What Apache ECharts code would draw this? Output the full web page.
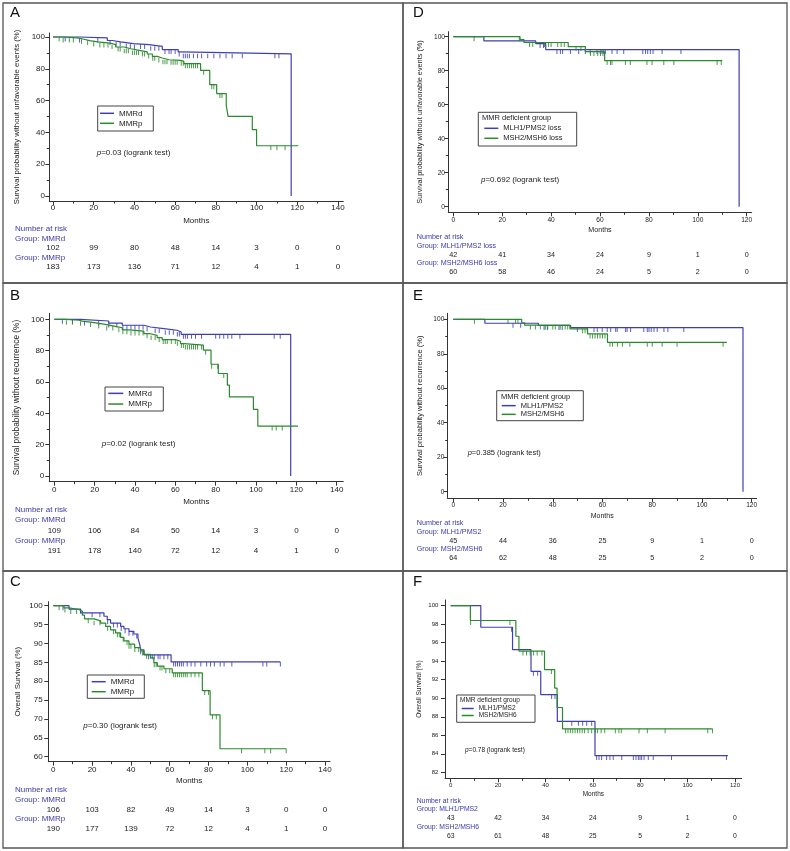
<!DOCTYPE html>
<html><head><meta charset="utf-8">
<script src="https://cdn.jsdelivr.net/npm/echarts@6/dist/echarts.min.js"></script>
<style>html,body{margin:0;padding:0;background:#fff}#c{width:790px;height:851px}</style>
</head><body><div id="c"></div>
<script>
// ---------- tick labels ----------
const ticksX140 = [0,20,40,60,80,100,120,140];
const minorX140 = [10,30,50,70,90,110,130];
const ticksX120 = [0,20,40,60,80,100,120];
const minorX120 = [10,30,50,70,90,110];
const ticksY100 = [0,20,40,60,80,100];
const minorY100 = [10,30,50,70,90];
const ticksY60 = [60,65,70,75,80,85,90,95,100];
const ticksY82 = [82,84,86,88,90,92,94,96,98,100];

// ---------- Panel A : survival without unfavorable events ----------
const A_MMRd_steps = [[0,100],[12.8,99.4],[26.7,97.8],[29.1,96.9],[33.2,95.8],[39.5,95.2],[47.2,94.1],[53.7,92.1],[61.5,90.6],[62.8,89.4],[117,0]];
const A_MMRd_cens = [6,13,22,28,31,33,36,38,40,43,45,48,50,52,55,57,58,60,62,64,65,66,67,69,71,73,76,79,82,85,88,93,109,111];
const A_MMRp_steps = [[0,100],[4.6,99.4],[12,98.6],[15.2,97.7],[18,96.9],[22,96.2],[28,95.2],[30.8,93.7],[34.9,92.6],[38.2,91.4],[43.1,90.6],[46.3,89.3],[48.8,87.8],[51.2,86.8],[53.7,85.7],[57,85.3],[62.7,84.7],[64.3,83.2],[72.5,79],[77,70],[80.4,64.4],[85.1,57],[86,50.1],[97.9,41.7],[100,31.6],[120.5,31.6]];
const A_MMRp_cens = [3,5,8,10,14,17,20,23,25,27,29,32,33,35,36,37,39,40,41,42,44,45,47,49,50,52,54,55,56,58,59,60,61,63,64,65,66,67,68,69,70,71,74,78,79,82,83,107,110,114];
const A_MMRd_risk = [102,99,80,48,14,3,0,0];
const A_MMRp_risk = [183,173,136,71,12,4,1,0];

// ---------- Panel B : survival without recurrence ----------
const B_MMRd_steps = [[0,100],[13,98.9],[27,97.6],[33.7,96.2],[44.4,95.1],[47.7,94.1],[54.3,93],[60.9,91.9],[62.9,90.4],[117.2,0]];
const B_MMRd_cens = [4,9,15,22,27,31,34,36,38,40,42,44,46,50,52,55,57,59,61,62,64,65,66,68,70,73,80,82,84,86,88,92,109,112];
const B_MMRp_steps = [[0,100],[5.6,99.4],[12.2,98.8],[13.9,97.9],[19.7,96.9],[24.6,95.7],[29.6,94.6],[33.7,93.3],[37,92.5],[44.4,90.8],[47.7,89.7],[51,88.3],[53.5,87],[60.1,86],[62.6,84.5],[64.2,83.5],[73.9,80.3],[77.7,71.3],[81.3,65.4],[85.8,58],[86.8,50.5],[98.7,42.5],[100.9,31.8],[120.8,31.8]];
const B_MMRp_cens = [6,9,13,18,22,26,29,32,34,36,38,40,42,44,46,48,50,52,54,55,56,58,60,61,63,64,65,66,67,68,69,70,71,73,75,78,81,84,108,110,113];
const B_MMRd_risk = [109,106,84,50,14,3,0,0];
const B_MMRp_risk = [191,178,140,72,12,4,1,0];

// ---------- Panel C : overall survival ----------
const C_MMRd_steps = [[0,100],[8.1,99.1],[14.1,98.1],[26.1,97.2],[27.8,96.3],[29.5,95.4],[34.7,94.5],[36.4,93.9],[39,93.2],[41.5,92.5],[43.6,91.4],[44.5,89.8],[45,88.3],[46.7,87],[60.7,85.1],[117,85.1]];
const C_MMRd_cens = [5,14,20,24,28,31,33,35,37,39,41,43,45,49,51,52,54,55,57,59,62,63,64,65,66,67,69,71,73,76,79,81,83,86,88,92,108,110,117];
const C_MMRp_steps = [[0,100],[5.5,99.4],[8.1,99],[13.2,98.5],[15,97.5],[16.1,96.5],[21,96],[24.4,95.4],[27,94.5],[29.5,93.6],[32.1,92.8],[34.7,91.6],[36.4,90.7],[39,89.8],[41.9,88.9],[45,88],[46.7,87.1],[50.1,86.2],[51.8,84.9],[53.6,84],[57,83.3],[61.3,82.2],[76.8,77.5],[80.8,71.1],[85.9,62.1],[120,62.1]];
const C_MMRp_cens = [3,6,9,12,18,21,24,28,31,33,34,36,38,39,40,42,44,46,48,50,52,53,55,56,58,60,62,63,64,65,66,67,68,69,71,73,75,78,80,82,84,97,109,112,120];
const C_MMRd_risk = [106,103,82,49,14,3,0,0];
const C_MMRp_risk = [190,177,139,72,12,4,1,0];

// ---------- Panel D ----------
const D_MLH1_steps = [[0,100],[12.5,97.5],[33.7,95.9],[37.8,92.4],[116.9,0]];
const D_MLH1_cens = [35.5,36.9,42.4,43.8,44.7,47.9,51.3,54,56,58.8,60.1,60.8,61.5,62.2,64.9,67,69.7,77.5,78.6,79.5,80.6,81.7,85.4,93.1];
const D_MSH2_steps = [[0,100],[27.3,98.3],[28.9,96.6],[47,94.2],[54,91.2],[61.9,85.9],[110,85.9]];
const D_MSH2_cens = [8.5,27,31.2,32.5,37.3,38.9,40,42.7,44.1,45.4,50.2,52.2,56.1,57.5,59.1,60.2,61.2,62.9,64.3,64.9,70.4,72.4,79.2,81.3,86.1,90.2,107.9,109.6];
const D_MLH1_risk = [42,41,34,24,9,1,0];
const D_MSH2_risk = [60,58,46,24,5,2,0];

// ---------- Panel E ----------
const E_MLH1_steps = [[0,100],[12.7,97.7],[34.2,96.4],[47.2,95.2],[116.5,0]];
const E_MLH1_cens = [24,27.1,36.5,37.8,42.5,43.8,49.9,53.9,56.6,57.9,59.9,61.9,63.3,65.3,65.9,69.3,69.9,71.3,76.6,78,78.7,79.6,80.7,82,84.7,86.3,92.7];
const E_MSH2_steps = [[0,100],[27.5,98],[28.7,96.6],[46.9,94.5],[54,91.5],[62,86.6],[110,86.6]];
const E_MSH2_cens = [8.5,22,25,26,31,33,35,37,38,40,41,43,45,46,52,53,55,56,57,58,59,60,61,63,64,66,68,71,78,80,84,90,108.5];
const E_MLH1_risk = [45,44,36,25,9,1,0];
const E_MSH2_risk = [64,62,48,25,5,2,0];

// ---------- Panel F ----------
const F_MLH1_steps = [[0,100],[12.7,97.67],[26.1,95.25],[33.9,92.9],[38,90.4],[45,87.5],[60.9,83.8],[117,83.8]];
const F_MLH1_cens = [25.7,34.9,36.7,42.6,44,51.1,53.9,55.7,57.4,59.5,61.6,62.6,63.7,65.8,67.2,68.6,72.2,77.1,78.2,79.2,79.9,80.6,81.6,83.4,85.5,93.2,116.4];
const F_MSH2_steps = [[0,100],[8.3,98.4],[27.5,96.7],[28.8,95.1],[39.6,93.1],[43.9,91.1],[44.9,89],[47.2,86.7],[110.5,86.7]];
const F_MSH2_cens = [8.4,25,30.5,32,33.5,35,36.5,38.5,42.5,48.5,49.5,50.5,51.5,52.5,53.5,54.5,55.5,56.5,58,59.5,61,62,63.5,65,69.5,71,72,79.5,83,90.5,108.5,110.5];
const F_MLH1_risk = [43,42,34,24,9,1,0];
const F_MSH2_risk = [63,61,48,25,5,2,0];

// ---------- styling / layout ----------
const BLUE = '#3f3fb4', GREEN = '#2b8a2b', TXTBLUE = '#3a3aa6', INK = '#222', AX = '#333';
const FONT = '"Liberation Sans", Arial, sans-serif';
const UNFAV = 'Survival probability without unfavorable events (%)';
const RECUR = 'Survival probability without recurrence (%)';
const OS = 'Overall Survival (%)';

const panels = [
 {letter:'A', frame:[3,3,403,283], letterPos:[10,12.7], grid:[49.3,33,343.3,201], xMap:[0,53,140,338], yMap:[0,196,100,37],
  xTicks:ticksX140, xMinor:minorX140, yTicks:ticksY100, yMinor:minorY100, tickFont:8, nameFont:8, xLabelMargin:7, yLabelMargin:4.3, xNameGap:20,
  yName:UNFAV, yNameFont:7.8, yNameGap:32.3, names:['MMRd','MMRp'], steps:[A_MMRd_steps,A_MMRp_steps], cens:[A_MMRd_cens,A_MMRp_cens], risk:[A_MMRd_risk,A_MMRp_risk],
  riskFont:8, riskLabelX:15, riskLabelY:[228.5,238.5,257.3], riskRowY:[247.7,266.7],
  legendBox:[97.7,106,153.3,131], legendTitle:null, legendPos:[100,108.3], legendL:10, legendFont:8, legendIcon:14, pText:'0.03', pPos:[96.7,153], pFont:8},
 {letter:'B', frame:[3,283,403,571], letterPos:[10,296], grid:[49.3,313.3,343.3,481.7], xMap:[0,54.3,140,336.7], yMap:[0,476,100,319.3],
  xTicks:ticksX140, xMinor:minorX140, yTicks:ticksY100, yMinor:minorY100, tickFont:8, nameFont:8, xLabelMargin:7.6, yLabelMargin:5, xNameGap:20,
  yName:RECUR, yNameFont:8.3, yNameGap:32.6, names:['MMRd','MMRp'], steps:[B_MMRd_steps,B_MMRp_steps], cens:[B_MMRd_cens,B_MMRp_cens], risk:[B_MMRd_risk,B_MMRp_risk],
  riskFont:8, riskLabelX:15, riskLabelY:[510,520,540.7], riskRowY:[530.7,550.7],
  legendBox:[105,387,163.3,411], legendTitle:null, legendPos:[108.3,388], legendL:10.7, legendFont:8, legendIcon:15, pText:'0.02', pPos:[101.7,443.3], pFont:8},
 {letter:'C', frame:[3,571,403,848], letterPos:[10,581.7], grid:[48.3,601.7,330,761.7], xMap:[0,53.3,140,325], yMap:[60,756.7,100,605.7],
  xTicks:ticksX140, xMinor:minorX140, yTicks:ticksY60, yMinor:[], tickFont:8, nameFont:8, xLabelMargin:8.3, yLabelMargin:5.6, xNameGap:19.3,
  yName:OS, yNameFont:7.9, yNameGap:30, names:['MMRd','MMRp'], steps:[C_MMRd_steps,C_MMRp_steps], cens:[C_MMRd_cens,C_MMRp_cens], risk:[C_MMRd_risk,C_MMRp_risk],
  riskFont:8, riskLabelX:15, riskLabelY:[790,799.3,818.3], riskRowY:[809.3,828.3],
  legendBox:[87.3,675,144.3,698.3], legendTitle:null, legendPos:[91.7,676.7], legendL:10, legendFont:8, legendIcon:14, pText:'0.30', pPos:[83.3,725.7], pFont:8},
 {letter:'D', frame:[403,3,787,283], letterPos:[413,13], grid:[448.3,31.7,751.7,212.3], xMap:[0,453.3,120,746.7], yMap:[0,206.7,100,36.7],
  xTicks:ticksX120, xMinor:minorX120, yTicks:ticksY100, yMinor:minorY100, tickFont:6.6, nameFont:7.1, xLabelMargin:7.7, yLabelMargin:3.3, xNameGap:17.7,
  yName:UNFAV, yNameFont:7.3, yNameGap:28.3, names:['MLH1/PMS2 loss','MSH2/MSH6 loss'], steps:[D_MLH1_steps,D_MSH2_steps], cens:[D_MLH1_cens,D_MSH2_cens], risk:[D_MLH1_risk,D_MSH2_risk],
  riskFont:7.2, riskLabelX:416.7, riskLabelY:[237.3,245.7,263.3], riskRowY:[255,272.3],
  legendBox:[478.3,112.3,576.7,146], legendTitle:[482,118.3], legendPos:[484.3,123.3], legendL:10, legendFont:7.5, legendIcon:14, pText:'0.692', pPos:[481,180], pFont:8},
 {letter:'E', frame:[403,283,787,571], letterPos:[413,296], grid:[447.7,313.3,756.7,498.3], xMap:[0,453.3,120,751.7], yMap:[0,491.7,100,319.3],
  xTicks:ticksX120, xMinor:minorX120, yTicks:ticksY100, yMinor:minorY100, tickFont:6.6, nameFont:7, xLabelMargin:6.7, yLabelMargin:3.4, xNameGap:17.4,
  yName:RECUR, yNameFont:7.5, yNameGap:27.7, names:['MLH1/PMS2','MSH2/MSH6'], steps:[E_MLH1_steps,E_MSH2_steps], cens:[E_MLH1_cens,E_MSH2_cens], risk:[E_MLH1_risk,E_MSH2_risk],
  riskFont:7.2, riskLabelX:416.7, riskLabelY:[523.3,531.7,549.3], riskRowY:[540.7,558.3],
  legendBox:[496.7,390.7,583.3,420.7], legendTitle:[501,396.7], legendPos:[501.7,401.3], legendL:8.7, legendFont:7.5, legendIcon:14, pText:'0.385', pPos:[467.7,453.3], pFont:7.5},
 {letter:'F', frame:[403,571,787,848], letterPos:[413,582], grid:[445,600,741.7,778.3], xMap:[0,450.7,120,735], yMap:[82,772.3,100,605.7],
  xTicks:ticksX120, xMinor:minorX120, yTicks:ticksY82, yMinor:[], tickFont:6, nameFont:6.5, xLabelMargin:6.7, yLabelMargin:6.7, xNameGap:16,
  yName:OS, yNameFont:6.5, yNameGap:26, names:['MLH1/PMS2','MSH2/MSH6'], steps:[F_MLH1_steps,F_MSH2_steps], cens:[F_MLH1_cens,F_MSH2_cens], risk:[F_MLH1_risk,F_MSH2_risk],
  riskFont:6.8, riskLabelX:416.7, riskLabelY:[801,809.3,826.7], riskRowY:[818.3,835.7],
  legendBox:[456.7,695,535,722.3], legendTitle:[460,700], legendPos:[461.7,705], legendL:7, legendFont:6.5, legendIcon:12, pText:'0.78', pPos:[465,750], pFont:6.5}
];

function mapRange(lo, hi, v0, p0, v1, p1) {
  const s = (p1 - p0) / (v1 - v0);
  return [v0 + (lo - p0) / s, v0 + (hi - p0) / s];
}
function stepLevel(steps, t) {
  let v = steps[0][1];
  for (const [x, y] of steps) { if (x <= t) v = y; else break; }
  return v;
}
function txt(x, y, text, size, color, extra) {
  return {type:'text', x:x, y:y, silent:true, z:10,
    style:Object.assign({text:text, fontSize:size, fontFamily:FONT, fill:color, align:'left', verticalAlign:'middle'}, extra || {})};
}

const option = {animation:false, backgroundColor:'#fff', textStyle:{fontFamily:FONT},
  grid:[], xAxis:[], yAxis:[], series:[], legend:[], graphic:[]};
const colors = [BLUE, GREEN];

panels.forEach((p, i) => {
  const [gl, gt, gr, gb] = p.grid;
  option.grid.push({left:gl, top:gt, width:gr - gl, height:gb - gt, containLabel:false, outerBoundsMode:'none', show:false});
  const [xmin, xmax] = mapRange(gl, gr, ...p.xMap);
  const [ymin, ymax] = mapRange(gb, gt, ...p.yMap);
  const xi = option.xAxis.length, yi = option.yAxis.length;
  const lineSt = {color:AX, width:1};

  option.xAxis.push({type:'value', gridIndex:i, min:xmin, max:xmax, position:'bottom',
    axisLine:{show:true, onZero:false, lineStyle:lineSt}, splitLine:{show:false},
    axisTick:{show:true, customValues:p.xTicks, length:4, lineStyle:lineSt},
    axisLabel:{customValues:p.xTicks, fontSize:p.tickFont, fontFamily:FONT, color:INK, margin:p.xLabelMargin, verticalAlign:'middle'},
    name:'Months', nameLocation:'middle', nameGap:p.xNameGap,
    nameTextStyle:{fontSize:p.nameFont, fontFamily:FONT, color:INK, verticalAlign:'middle'}});
  option.xAxis.push({type:'value', gridIndex:i, min:xmin, max:xmax, position:'bottom',
    axisLine:{show:false, onZero:false}, splitLine:{show:false}, axisLabel:{show:false},
    axisTick:{show:true, customValues:p.xMinor, length:2.5, lineStyle:lineSt}});
  p.risk.forEach((r, k) => {
    option.xAxis.push({type:'value', gridIndex:i, min:xmin, max:xmax, position:'bottom', offset:p.riskRowY[k] - gb,
      axisLine:{show:false, onZero:false}, axisTick:{show:false}, splitLine:{show:false},
      axisLabel:{customValues:p.xTicks.slice(0, r.length), margin:0, verticalAlign:'middle', fontSize:p.riskFont, fontFamily:FONT, color:INK,
        formatter:(v) => { const j = p.xTicks.indexOf(v); return (j >= 0 && j < r.length) ? String(r[j]) : ''; }}});
  });

  option.yAxis.push({type:'value', gridIndex:i, min:ymin, max:ymax, position:'left',
    axisLine:{show:true, onZero:false, lineStyle:lineSt}, splitLine:{show:false},
    axisTick:{show:true, customValues:p.yTicks, length:4, lineStyle:lineSt},
    axisLabel:{customValues:p.yTicks, fontSize:p.tickFont, fontFamily:FONT, color:INK, margin:p.yLabelMargin},
    name:p.yName, nameLocation:'middle', nameRotate:90, nameGap:p.yNameGap,
    nameTextStyle:{fontSize:p.yNameFont, fontFamily:FONT, color:INK, verticalAlign:'middle'}});
  if (p.yMinor.length) {
    option.yAxis.push({type:'value', gridIndex:i, min:ymin, max:ymax, position:'left',
      axisLine:{show:false, onZero:false}, splitLine:{show:false}, axisLabel:{show:false},
      axisTick:{show:true, customValues:p.yMinor, length:2.5, lineStyle:lineSt}});
  }

  [0, 1].forEach(k => {
    option.series.push({type:'line', name:p.names[k], xAxisIndex:xi, yAxisIndex:yi, data:p.steps[k], step:'end',
      showSymbol:false, symbol:'none', silent:true, z:2 + k,
      lineStyle:{color:colors[k], width:1.2}, itemStyle:{color:colors[k]}});
  });
  [0, 1].forEach(k => {
    option.series.push({type:'scatter', name:p.names[k] + ' (censored)', xAxisIndex:xi, yAxisIndex:yi,
      data:p.cens[k].map(t => [t, stepLevel(p.steps[k], t)]), symbol:'rect', symbolSize:[1, 4.5], symbolOffset:[0, 2.2],
      silent:true, z:2 + k, itemStyle:{color:colors[k], opacity:0.85}});
  });

  option.legend.push({data:p.names, orient:'vertical', left:p.legendPos[0], top:p.legendPos[1], padding:0, itemGap:0,
    itemWidth:p.legendIcon, itemHeight:1.5, icon:'rect', selectedMode:false,
    textStyle:{fontSize:p.legendFont, lineHeight:p.legendL, fontFamily:FONT, color:INK}});

  // frames, texts
  const [fx0, fy0, fx1, fy1] = p.frame;
  option.graphic.push({type:'rect', silent:true, z:0, shape:{x:fx0, y:fy0, width:fx1 - fx0, height:fy1 - fy0},
    style:{fill:'none', stroke:'#555', lineWidth:1.3}});
  option.graphic.push(txt(p.letterPos[0], p.letterPos[1], p.letter, 15, '#111'));
  const [bx0, by0, bx1, by1] = p.legendBox;
  option.graphic.push({type:'rect', silent:true, z:1, shape:{x:bx0, y:by0, width:bx1 - bx0, height:by1 - by0},
    style:{fill:'none', stroke:'#444', lineWidth:1}});
  if (p.legendTitle) option.graphic.push(txt(p.legendTitle[0], p.legendTitle[1], 'MMR deficient group', p.legendFont, INK));
  option.graphic.push(txt(p.pPos[0], p.pPos[1], '{i|p}=' + p.pText + ' (logrank test)', p.pFont, INK,
    {rich:{i:{fontStyle:'italic', fontSize:p.pFont, fontFamily:FONT, fill:INK}}}));
  option.graphic.push(txt(p.riskLabelX, p.riskLabelY[0], 'Number at risk', p.riskFont, TXTBLUE));
  option.graphic.push(txt(p.riskLabelX, p.riskLabelY[1], 'Group: ' + p.names[0], p.riskFont, TXTBLUE));
  option.graphic.push(txt(p.riskLabelX, p.riskLabelY[2], 'Group: ' + p.names[1], p.riskFont, TXTBLUE));
});

const chart = echarts.init(document.getElementById('c'), null, {renderer:'canvas'});
chart.setOption(option);
</script>
</body></html>
